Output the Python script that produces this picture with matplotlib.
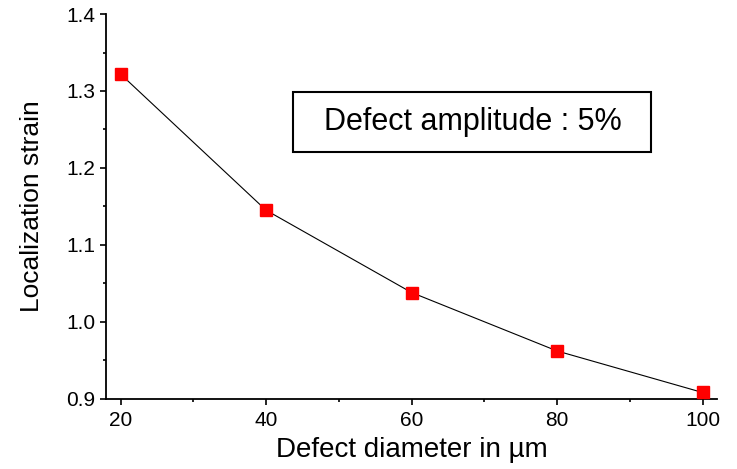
import matplotlib
matplotlib.use("Agg")
import matplotlib.pyplot as plt
from matplotlib.patches import Rectangle

plt.rcParams['font.family'] = ['Liberation Sans', 'DejaVu Sans']

diameter = [20, 40, 60, 80, 100]
strain = [1.322, 1.145, 1.038, 0.962, 0.908]

fig = plt.figure(figsize=(7.37, 4.69), dpi=100)
ax = fig.add_axes([0.1438, 0.150, 0.8292, 0.820])

ax.plot(diameter, strain, color="black", lw=0.8, marker="s", markersize=9,
        markerfacecolor="red", markeredgecolor="red", clip_on=False, zorder=3)

ax.set_xlim(18, 102)
ax.set_ylim(0.9, 1.4)
ax.set_xticks([20, 40, 60, 80, 100])
ax.set_xticks([30, 50, 70, 90], minor=True)
ax.set_yticks([0.9, 1.0, 1.1, 1.2, 1.3, 1.4])
ax.set_yticks([0.95, 1.05, 1.15, 1.25, 1.35], minor=True)
ax.set_yticklabels(["0.9", "1.0", "1.1", "1.2", "1.3", "1.4"])

for s in ["top", "right"]:
    ax.spines[s].set_visible(False)
ax.spines["left"].set_linewidth(1.3)
ax.spines["bottom"].set_linewidth(1.3)
ax.tick_params(which="major", direction="out", length=4, width=1.2, labelsize=15)
ax.tick_params(which="minor", direction="out", length=2.5, width=1.2)
ax.tick_params(axis="x", pad=5)

ax.set_xlabel("Defect diameter in µm", fontsize=20, labelpad=5)
ax.set_ylabel("Localization strain", fontsize=19, labelpad=16)

# annotation box
ax.add_patch(Rectangle((0.306, 0.641), 0.586, 0.156, transform=ax.transAxes,
                       facecolor="white", edgecolor="black", linewidth=1.5))
ax.text(0.600, 0.719, "Defect amplitude : 5%", transform=ax.transAxes,
        fontsize=22, ha="center", va="center")

fig.savefig("out.png", dpi=100)
